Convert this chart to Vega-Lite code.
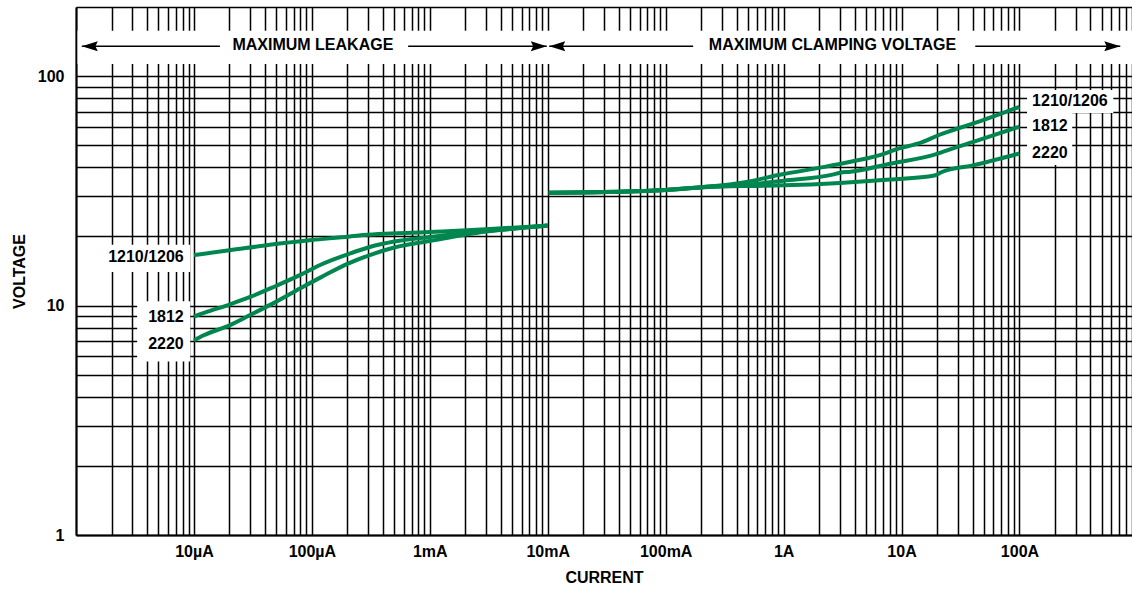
{
  "$schema": "https://vega.github.io/schema/vega-lite/v6.json",
  "width": 1056,
  "height": 528,
  "autosize": {"type": "none"},
  "padding": {"left": 76, "top": 7, "right": 0, "bottom": 56},
  "background": "white",
  "config": {
    "view": {"stroke": null},
    "font": "Liberation Sans",
    "axis": {
      "labelFont": "Liberation Sans",
      "labelFontSize": 16,
      "labelFontWeight": "bold",
      "labelColor": "black",
      "titleFont": "Liberation Sans",
      "titleFontSize": 16,
      "titleFontWeight": "bold",
      "titleColor": "black",
      "ticks": false,
      "tickSize": 0,
      "grid": true,
      "gridColor": "black",
      "gridWidth": 1.5,
      "gridOpacity": 1,
      "domainColor": "black",
      "domainWidth": 2,
      "labelOverlap": false,
      "labelFlush": false
    }
  },
  "datasets": {
    "curves": [
      {"s": "1210L", "x": 1e-5, "y": 16.6},
      {"s": "1210L", "x": 2e-5, "y": 17.4},
      {"s": "1210L", "x": 4.4e-5, "y": 18.4},
      {"s": "1210L", "x": 1e-4, "y": 19.3},
      {"s": "1210L", "x": 2.1e-4, "y": 20.0},
      {"s": "1210L", "x": 2.5e-4, "y": 20.2},
      {"s": "1210L", "x": 1e-3, "y": 20.9},
      {"s": "1210L", "x": 3e-3, "y": 21.5},
      {"s": "1210L", "x": 1e-2, "y": 22.3},
      {"s": "1812L", "x": 1e-5, "y": 8.95},
      {"s": "1812L", "x": 1.3e-5, "y": 9.4},
      {"s": "1812L", "x": 2e-5, "y": 10.1},
      {"s": "1812L", "x": 3e-5, "y": 10.9},
      {"s": "1812L", "x": 5e-5, "y": 12.2},
      {"s": "1812L", "x": 8e-5, "y": 13.6},
      {"s": "1812L", "x": 1.2e-4, "y": 15.1},
      {"s": "1812L", "x": 2e-4, "y": 16.7},
      {"s": "1812L", "x": 3.1e-4, "y": 18.0},
      {"s": "1812L", "x": 5e-4, "y": 19.0},
      {"s": "1812L", "x": 1e-3, "y": 19.9},
      {"s": "1812L", "x": 2.7e-3, "y": 21.0},
      {"s": "1812L", "x": 1e-2, "y": 22.3},
      {"s": "2220L", "x": 1e-5, "y": 7.05},
      {"s": "2220L", "x": 1.2e-5, "y": 7.4},
      {"s": "2220L", "x": 2e-5, "y": 8.2},
      {"s": "2220L", "x": 3e-5, "y": 9.1},
      {"s": "2220L", "x": 5e-5, "y": 10.4},
      {"s": "2220L", "x": 8e-5, "y": 11.9},
      {"s": "2220L", "x": 1.2e-4, "y": 13.3},
      {"s": "2220L", "x": 2e-4, "y": 15.2},
      {"s": "2220L", "x": 3.1e-4, "y": 16.6},
      {"s": "2220L", "x": 5e-4, "y": 17.9},
      {"s": "2220L", "x": 1e-3, "y": 19.1},
      {"s": "2220L", "x": 3e-3, "y": 21.0},
      {"s": "2220L", "x": 1e-2, "y": 22.3},
      {"s": "1210R", "x": 0.0102, "y": 31.0},
      {"s": "1210R", "x": 0.03, "y": 31.2},
      {"s": "1210R", "x": 0.1, "y": 31.9},
      {"s": "1210R", "x": 0.2, "y": 32.8},
      {"s": "1210R", "x": 0.4, "y": 34.0},
      {"s": "1210R", "x": 1, "y": 37.4},
      {"s": "1210R", "x": 2, "y": 39.8},
      {"s": "1210R", "x": 3.7, "y": 42.3},
      {"s": "1210R", "x": 7.5, "y": 46.3},
      {"s": "1210R", "x": 8.5, "y": 47.5},
      {"s": "1210R", "x": 15, "y": 51.5},
      {"s": "1210R", "x": 21, "y": 55.5},
      {"s": "1210R", "x": 25, "y": 57.3},
      {"s": "1210R", "x": 40, "y": 62},
      {"s": "1210R", "x": 100, "y": 73.5},
      {"s": "1812R", "x": 0.0102, "y": 31.0},
      {"s": "1812R", "x": 0.1, "y": 31.9},
      {"s": "1812R", "x": 0.2, "y": 32.8},
      {"s": "1812R", "x": 0.5, "y": 33.7},
      {"s": "1812R", "x": 1, "y": 35.0},
      {"s": "1812R", "x": 2.6, "y": 37.2},
      {"s": "1812R", "x": 3, "y": 37.9},
      {"s": "1812R", "x": 3.7, "y": 38.3},
      {"s": "1812R", "x": 8, "y": 41.5},
      {"s": "1812R", "x": 20, "y": 45.8},
      {"s": "1812R", "x": 24, "y": 47.3},
      {"s": "1812R", "x": 40, "y": 51.5},
      {"s": "1812R", "x": 100, "y": 60.2},
      {"s": "2220R", "x": 0.0102, "y": 31.0},
      {"s": "2220R", "x": 0.1, "y": 31.9},
      {"s": "2220R", "x": 0.2, "y": 32.7},
      {"s": "2220R", "x": 0.5, "y": 33.2},
      {"s": "2220R", "x": 1, "y": 33.4},
      {"s": "2220R", "x": 3, "y": 34.2},
      {"s": "2220R", "x": 8, "y": 35.4},
      {"s": "2220R", "x": 19, "y": 36.9},
      {"s": "2220R", "x": 22, "y": 38.2},
      {"s": "2220R", "x": 40, "y": 40.8},
      {"s": "2220R", "x": 100, "y": 46}
    ],
    "boxes": [
      {"x": 1.03e-6, "x2": 900, "y": 112.9, "y2": 157.7},
      {"x": 1.6e-6, "x2": 9.3e-6, "y": 14.0, "y2": 18.4},
      {"x": 3.3e-6, "x2": 9.3e-6, "y": 5.7, "y2": 10.45},
      {"x": 116, "x2": 625, "y": 69, "y2": 87},
      {"x": 116, "x2": 280, "y": 41, "y2": 69}
    ],
    "labelsLeft": [
      {"x": 8.2e-6, "y": 16.3, "t": "1210/1206"},
      {"x": 8.2e-6, "y": 8.93, "t": "1812"},
      {"x": 8.2e-6, "y": 6.8, "t": "2220"}
    ],
    "labelsRight": [
      {"x": 128, "y": 77.8, "t": "1210/1206"},
      {"x": 128, "y": 60.6, "t": "1812"},
      {"x": 128, "y": 46.2, "t": "2220"}
    ],
    "bandTitles": [
      {"x": 1.02e-4, "y": 136.5, "t": "MAXIMUM LEAKAGE"},
      {"x": 2.6, "y": 136.5, "t": "MAXIMUM CLAMPING VOLTAGE"}
    ],
    "arrows": [
      {"x": 1.12e-6, "x2": 1.66e-5, "y": 135},
      {"x": 6.55e-4, "x2": 9.82e-3, "y": 135},
      {"x": 1.03e-2, "x2": 0.171, "y": 135},
      {"x": 42.2, "x2": 716, "y": 135}
    ],
    "heads": [
      {"x": 1.12e-6, "y": 135, "dir": "left"},
      {"x": 9.82e-3, "y": 135, "dir": "right"},
      {"x": 1.03e-2, "y": 135, "dir": "left"},
      {"x": 716, "y": 135, "dir": "right"}
    ]
  },
  "encoding": {
    "x": {
      "field": "x",
      "type": "quantitative",
      "scale": {"type": "log", "domain": [1e-6, 900], "nice": false},
      "axis": {
        "title": "CURRENT",
        "titlePadding": 10,
        "labelPadding": 8,
        "values": [1e-6, 2e-6, 3e-6, 4e-6, 5e-6, 6e-6, 7e-6, 8e-6, 9e-6,
                   1e-5, 2e-5, 3e-5, 4e-5, 5e-5, 6e-5, 7e-5, 8e-5, 9e-5,
                   1e-4, 2e-4, 3e-4, 4e-4, 5e-4, 6e-4, 7e-4, 8e-4, 9e-4,
                   1e-3, 2e-3, 3e-3, 4e-3, 5e-3, 6e-3, 7e-3, 8e-3, 9e-3,
                   1e-2, 2e-2, 3e-2, 4e-2, 5e-2, 6e-2, 7e-2, 8e-2, 9e-2,
                   0.1, 0.2, 0.3, 0.4, 0.5, 0.6, 0.7, 0.8, 0.9,
                   1, 2, 3, 4, 5, 6, 7, 8, 9,
                   10, 20, 30, 40, 50, 60, 70, 80, 90,
                   100, 200, 300, 400, 500, 600, 700, 800, 900],
        "labelExpr": "datum.value==1e-5?'10µA':datum.value==1e-4?'100µA':datum.value==1e-3?'1mA':datum.value==1e-2?'10mA':datum.value==0.1?'100mA':datum.value==1?'1A':datum.value==10?'10A':datum.value==100?'100A':''"
      }
    },
    "y": {
      "field": "y",
      "type": "quantitative",
      "scale": {"type": "log", "domain": [1, 200], "nice": false},
      "axis": {
        "title": "VOLTAGE",
        "titlePadding": 10,
        "labelPadding": 12,
        "values": [1, 2, 3, 4, 5, 6, 7, 8, 9, 10, 20, 30, 40, 50, 60, 70, 80, 90, 100, 200],
        "labelExpr": "(datum.value==1||datum.value==10||datum.value==100)?datum.label:''"
      }
    }
  },
  "layer": [
    {
      "data": {"name": "boxes"},
      "mark": {"type": "rect", "fill": "white", "stroke": null},
      "encoding": {"x2": {"field": "x2"}, "y2": {"field": "y2"}}
    },
    {
      "data": {"name": "curves"},
      "mark": {"type": "line", "color": "#00864E", "strokeWidth": 4, "interpolate": "monotone"},
      "encoding": {"detail": {"field": "s", "type": "nominal"}}
    },
    {
      "data": {"name": "arrows"},
      "mark": {"type": "rule", "color": "black", "strokeWidth": 1.5},
      "encoding": {"x2": {"field": "x2"}}
    },
    {
      "data": {"name": "heads"},
      "mark": {"type": "point", "filled": true, "color": "black", "opacity": 1, "size": 256, "strokeWidth": 0},
      "encoding": {
        "shape": {
          "field": "dir",
          "type": "nominal",
          "scale": {"domain": ["left", "right"], "range": ["M0,0L2,-0.62L1.7,0L2,0.62Z", "M0,0L-2,-0.62L-1.7,0L-2,0.62Z"]},
          "legend": null
        }
      }
    },
    {
      "data": {"name": "bandTitles"},
      "mark": {"type": "text", "font": "Liberation Sans", "fontSize": 16, "fontWeight": "bold", "color": "black", "align": "center", "baseline": "middle"},
      "encoding": {"text": {"field": "t"}}
    },
    {
      "data": {"name": "labelsLeft"},
      "mark": {"type": "text", "font": "Liberation Sans", "fontSize": 16, "fontWeight": "bold", "color": "black", "align": "right", "baseline": "middle"},
      "encoding": {"text": {"field": "t"}}
    },
    {
      "data": {"name": "labelsRight"},
      "mark": {"type": "text", "font": "Liberation Sans", "fontSize": 16, "fontWeight": "bold", "color": "black", "align": "left", "baseline": "middle"},
      "encoding": {"text": {"field": "t"}}
    }
  ]
}
